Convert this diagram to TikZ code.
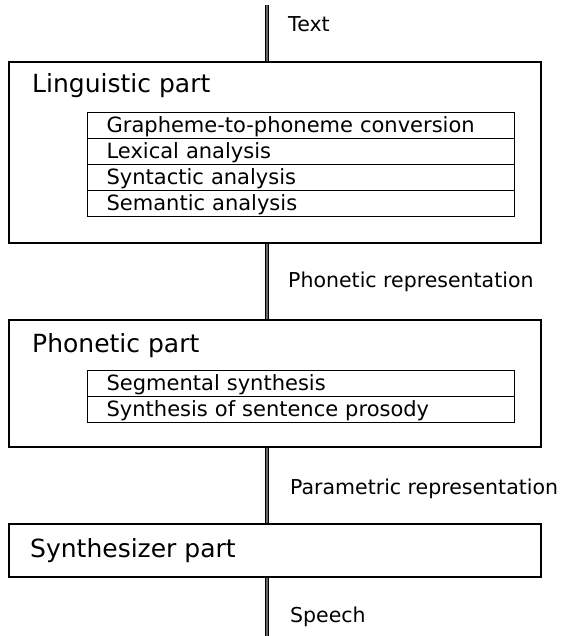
\documentclass[tikz,border=0pt]{standalone}
\usepackage{fontspec}
\setmainfont{DejaVu Sans}
\begin{document}
\begin{tikzpicture}[x=1pt,y=-1pt,
  outerbox/.style={draw, line width=1.7pt, anchor=north west, inner sep=0pt, minimum width=532pt},
  rowbox/.style={draw, line width=1.3pt, anchor=north west, inner xsep=19pt, inner ysep=0pt,
    text width=389pt, align=left, text height=20pt, text depth=6pt, font=\fontsize{21}{24}\selectfont},
  title/.style={anchor=base west, inner sep=0pt, font=\fontsize{25}{30}\selectfont},
  lab/.style={anchor=base west, inner sep=0pt, font=\fontsize{20.5}{24}\selectfont},
  conn/.style={line width=0.8pt, double=black!60, double distance=2pt}]
\useasboundingbox (0,0) rectangle (564,636);

% outer boxes
\node[outerbox, minimum height=181pt] (ling) at (8,61) {};
\node[outerbox, minimum height=127pt] (phon) at (8,319) {};
\node[outerbox, minimum height=53pt] (synth) at (8,523) {};

% titles
\node[title] (lingt) at (32,93) {Linguistic part};
\node[title] (phont) at (32,352) {Phonetic part};
\node[title] (syntht) at (30,557) {Synthesizer part};

% linguistic rows
\node[rowbox] (g2p) at (87,112) {Grapheme-to-phoneme conversion};
\node[rowbox] (lex) at (87,138) {Lexical analysis};
\node[rowbox] (syn) at (87,164) {Syntactic analysis};
\node[rowbox] (sem) at (87,190) {Semantic analysis};

% phonetic rows
\node[rowbox] (seg) at (87,370) {Segmental synthesis};
\node[rowbox] (pros) at (87,396) {Synthesis of sentence prosody};

% connectors
\coordinate (tin) at (267,5);
\coordinate (tout) at (267,636);
\draw[conn] (tin) -- (tin |- ling.north);
\draw[conn] (ling.south -| tin) -- (tin |- phon.north);
\draw[conn] (phon.south -| tin) -- (tin |- synth.north);
\draw[conn] (synth.south -| tin) -- (tout);

% labels
\node[lab] (ltext) at (288,32) {Text};
\node[lab] (lphon) at (288,287) {Phonetic representation};
\node[lab] (lpar) at (290,494) {Parametric representation};
\node[lab] (lspeech) at (290,622) {Speech};
\end{tikzpicture}
\end{document}
